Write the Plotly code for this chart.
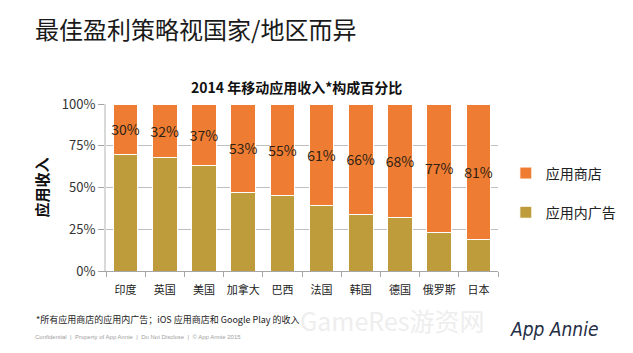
import plotly.graph_objects as go

countries = ["印度", "英国", "美国", "加拿大", "巴西", "法国", "韩国", "德国", "俄罗斯", "日本"]
store_pct = [30, 32, 37, 53, 55, 61, 66, 68, 77, 81]
ads_pct = [70, 68, 63, 47, 45, 39, 34, 32, 23, 19]
y_ticks = [0, 25, 50, 75, 100]
y_tick_labels = ["0%", "25%", "50%", "75%", "100%"]

FONT = "Noto Sans CJK SC, Liberation Sans, sans-serif"
ORANGE = "#EE7D33"
GOLD = "#BE9C3B"

fig = go.Figure()
fig.add_trace(go.Bar(
    x=countries, y=ads_pct, name="应用内广告", legendgroup="a", legendrank=2,
    marker=dict(color=GOLD, line=dict(color="white", width=1)),
    hoverinfo="skip",
))
fig.add_trace(go.Bar(
    x=countries, y=store_pct, name="应用商店", legendgroup="b", legendrank=1,
    marker=dict(color=ORANGE, line=dict(color="white", width=1)),
    text=[f"{v}%" for v in store_pct], textposition="inside", textangle=0,
    insidetextanchor="middle", constraintext="none",
    textfont=dict(family=FONT, size=14, color="#2e1f14"),
    hoverinfo="skip",
))

fig.update_layout(
    width=633, height=353,
    margin=dict(l=106, r=107, t=104, b=82),
    barmode="stack", bargap=0.37,
    plot_bgcolor="white", paper_bgcolor="white",
    font=dict(family=FONT, color="#222"),
    uniformtext=dict(minsize=8, mode="show"),
    showlegend=True,
    legend=dict(
        x=1.02, y=0.68, xanchor="left", yanchor="top",
        traceorder="grouped", tracegroupgap=18,
        font=dict(family=FONT, size=14, color="#222"),
        itemwidth=30, bgcolor="rgba(0,0,0,0)",
    ),
    xaxis=dict(
        type="category", showgrid=False, tickangle=0,
        showline=True, linecolor="#a6a6a6", linewidth=1,
        ticks="outside", tickson="boundaries", ticklen=5, tickcolor="#a6a6a6",
        ticklabelstandoff=9,
        tickfont=dict(family=FONT, size=11, color="#222"),
        fixedrange=True,
    ),
    yaxis=dict(
        range=[0, 100], tickvals=y_ticks, ticktext=y_tick_labels,
        showgrid=True, gridcolor="#bfbfbf", gridwidth=1,
        showline=True, linecolor="#d9d9d9", linewidth=2,
        ticks="outside", ticklen=6, tickcolor="#a6a6a6",
        tickfont=dict(family=FONT, size=13, color="#333"),
        title=dict(text="<b>应用收入</b>", font=dict(family=FONT, size=15, color="#111"), standoff=10),
        zeroline=False, fixedrange=True,
    ),
)

fig.add_annotation(text="最佳盈利策略视国家/地区而异", xref="paper", yref="paper",
                   x=(28 - 106) / 420, y=(271 - 28) / 167, xanchor="left", yanchor="middle",
                   showarrow=False, font=dict(family=FONT, size=24, color="#1a1a1a"))
fig.add_annotation(text="<b>2014 年移动应用收入*构成百分比</b>", xref="paper", yref="paper",
                   x=(310 - 106) / 420, y=(271 - 87) / 167, xanchor="center", yanchor="middle",
                   showarrow=False, font=dict(family=FONT, size=14, color="#111"))
fig.add_annotation(text="*所有应用商店的应用内广告；iOS 应用商店和 Google Play 的收入", xref="paper", yref="paper",
                   x=(29 - 106) / 420, y=(271 - 319) / 167, xanchor="left", yanchor="middle",
                   showarrow=False, font=dict(family=FONT, size=9, color="#222"))
fig.add_annotation(text="Confidential  |  Property of App Annie  |  Do Not Disclose  |  © App Annie 2015",
                   xref="paper", yref="paper",
                   x=(28 - 106) / 420, y=(271 - 337) / 167, xanchor="left", yanchor="middle",
                   showarrow=False, font=dict(family="Liberation Sans, sans-serif", size=6, color="#a0a0a0"))
fig.add_annotation(text="GameRes游资网", xref="paper", yref="paper",
                   x=(312 - 106) / 420, y=(271 - 320) / 167, xanchor="left", yanchor="middle",
                   showarrow=False, font=dict(family=FONT, size=25, color="#eeeeee"))
fig.add_annotation(text="<i>App Annie</i>", xref="paper", yref="paper",
                   x=(586 - 106) / 420, y=(271 - 329) / 167, xanchor="center", yanchor="middle",
                   showarrow=False, font=dict(family="DejaVu Sans Condensed, DejaVu Sans, sans-serif", size=19, color="#1f2d45"))

fig.write_html("out.html")
